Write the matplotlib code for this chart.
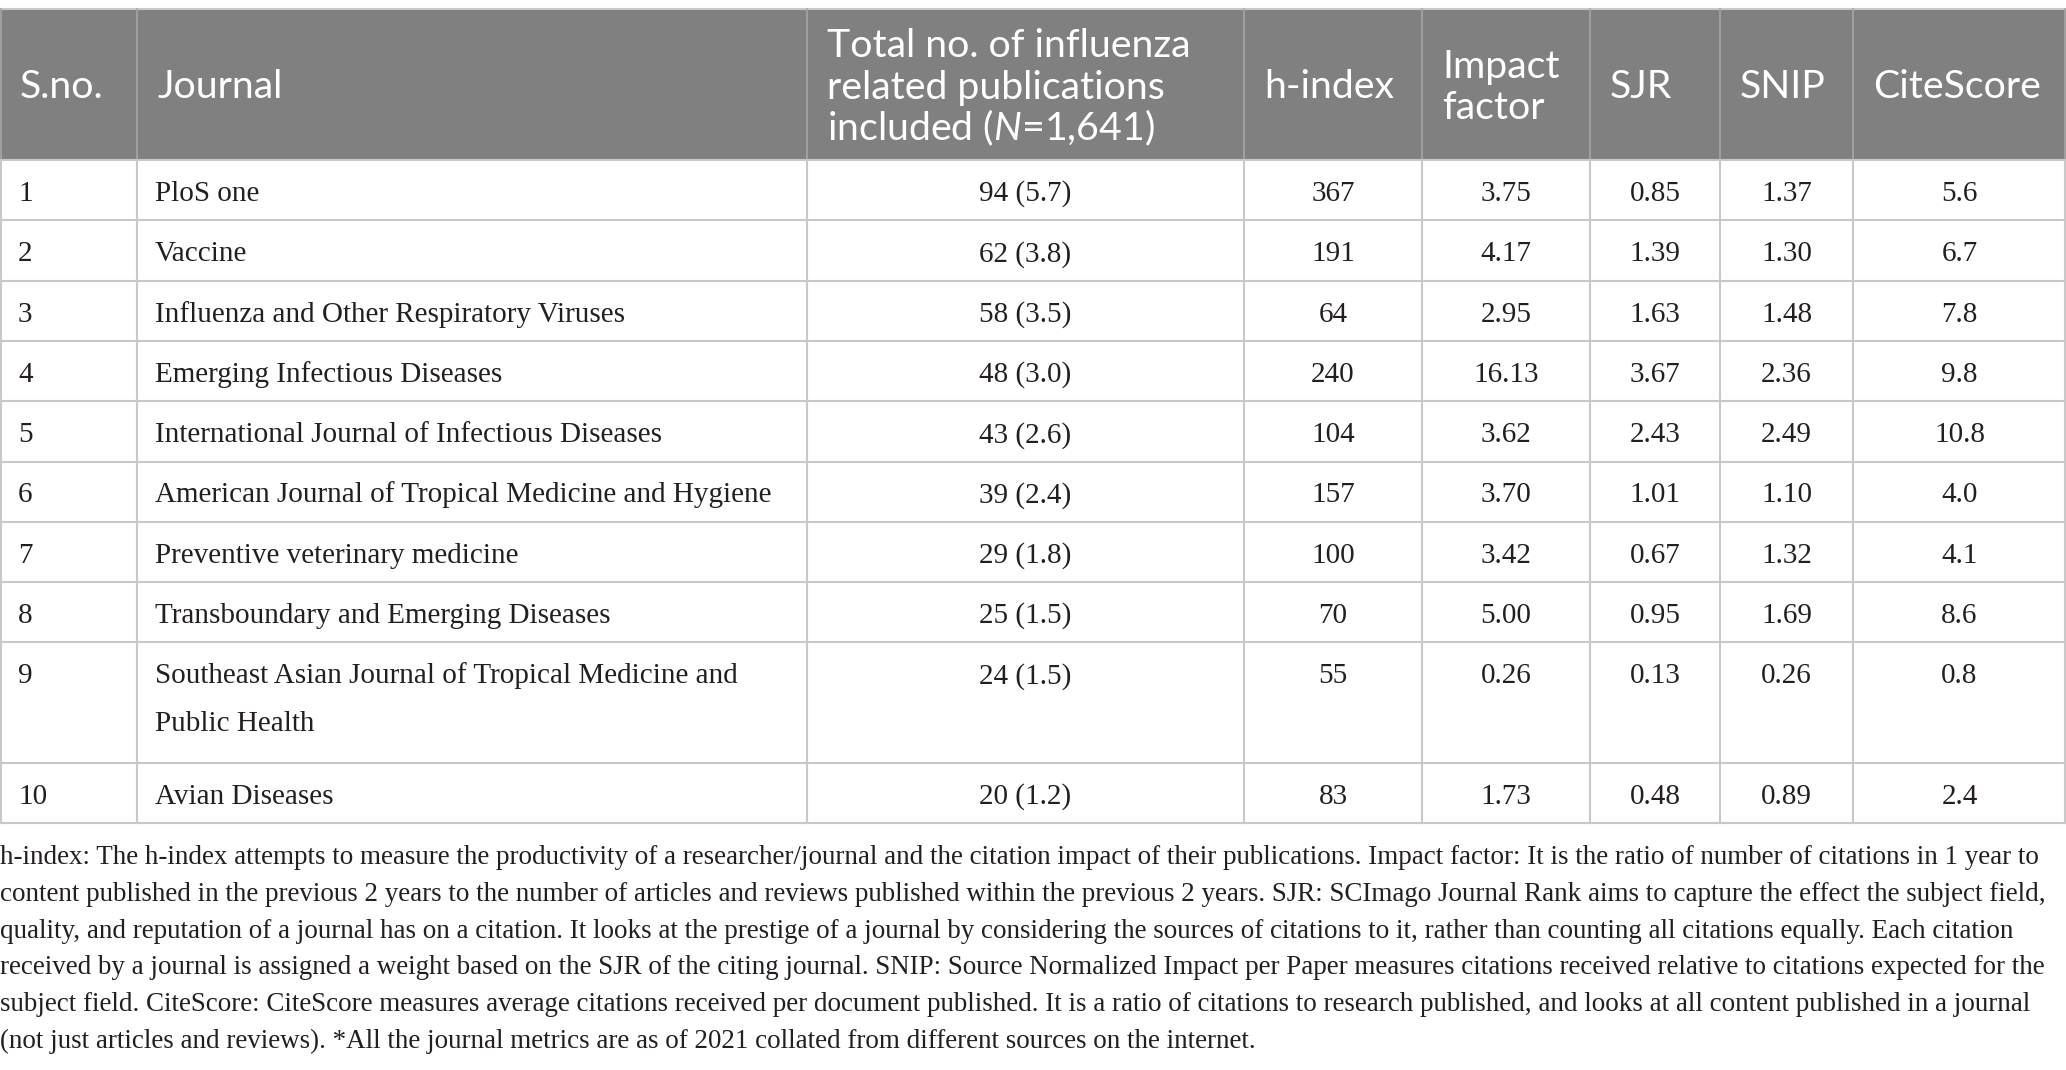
import matplotlib
matplotlib.use("Agg")
import matplotlib.pyplot as plt
from matplotlib.patches import Rectangle

# ---------------------------------------------------------------------
# Table data
# ---------------------------------------------------------------------
headers = ["S.no.", "Journal",
           "Total no. of influenza\nrelated publications\nincluded ($N$=1,641)",
           "h-index", "Impact\nfactor", "SJR", "SNIP", "CiteScore"]

sno = [1, 2, 3, 4, 5, 6, 7, 8, 9, 10]
journals = [
    "PloS one",
    "Vaccine",
    "Influenza and Other Respiratory Viruses",
    "Emerging Infectious Diseases",
    "International Journal of Infectious Diseases",
    "American Journal of Tropical Medicine and Hygiene",
    "Preventive veterinary medicine",
    "Transboundary and Emerging Diseases",
    "Southeast Asian Journal of Tropical Medicine and\nPublic Health",
    "Avian Diseases",
]
pub_counts = [94, 62, 58, 48, 43, 39, 29, 25, 24, 20]
pub_pct = [5.7, 3.8, 3.5, 3.0, 2.6, 2.4, 1.8, 1.5, 1.5, 1.2]
h_index = [367, 191, 64, 240, 104, 157, 100, 70, 55, 83]
impact = [3.75, 4.17, 2.95, 16.13, 3.62, 3.70, 3.42, 5.00, 0.26, 1.73]
sjr = [0.85, 1.39, 1.63, 3.67, 2.43, 1.01, 0.67, 0.95, 0.13, 0.48]
snip = [1.37, 1.30, 1.48, 2.36, 2.49, 1.10, 1.32, 1.69, 0.26, 0.89]
citescore = [5.6, 6.7, 7.8, 9.8, 10.8, 4.0, 4.1, 8.6, 0.8, 2.4]

footnote = [
    "h-index: The h-index attempts to measure the productivity of a researcher/journal and the citation impact of their publications. Impact factor: It is the ratio of number of citations in 1 year to",
    "content published in the previous 2 years to the number of articles and reviews published within the previous 2 years. SJR: SCImago Journal Rank aims to capture the effect the subject field,",
    "quality, and reputation of a journal has on a citation. It looks at the prestige of a journal by considering the sources of citations to it, rather than counting all citations equally. Each citation",
    "received by a journal is assigned a weight based on the SJR of the citing journal. SNIP: Source Normalized Impact per Paper measures citations received relative to citations expected for the",
    "subject field. CiteScore: CiteScore measures average citations received per document published. It is a ratio of citations to research published, and looks at all content published in a journal",
    "(not just articles and reviews). *All the journal metrics are as of 2021 collated from different sources on the internet.",
]

# ---------------------------------------------------------------------
# Layout (pixels)
# ---------------------------------------------------------------------
W, H = 2066, 1070
col_edges = [0, 137, 807, 1244, 1422, 1590, 1720, 1853, 2066]
table_top, header_bottom = 9, 160
row_unit = 60.3
header_gray = "#808080"
grid_color = "#c8c8c8"
text_color = "#231f20"
serif = "Liberation Serif"
sans = "Lato"

plt.rcParams["mathtext.fontset"] = "custom"
plt.rcParams["mathtext.it"] = "Lato:italic"
plt.rcParams["mathtext.rm"] = "Lato"

fig = plt.figure(figsize=(W / 100, H / 100), dpi=100)
ax = fig.add_axes([0, 0, 1, 1])
ax.set_xlim(0, W)
ax.set_ylim(H, 0)
ax.axis("off")
renderer = fig.canvas.get_renderer()


def fit_size(txt, family, target_px, ref=20):
    t = ax.text(0, 0, txt, fontsize=ref, family=family)
    w = t.get_window_extent(renderer).width
    t.remove()
    return ref * target_px / w


fs_head = fit_size("Total no. of influenza", sans, 364)
fs_body = fit_size("International Journal of Infectious Diseases", serif, 506)
fs_foot = fit_size(footnote[0], serif, 2044)

# rows: double height when journal name wraps
row_heights = [row_unit * (j.count("\n") + 1) for j in journals]
row_tops = [header_bottom]
for h in row_heights:
    row_tops.append(row_tops[-1] + h)
table_bottom = row_tops[-1]

# header background
ax.add_patch(Rectangle((0, table_top), W, header_bottom - table_top,
                       facecolor=header_gray, edgecolor="none", zorder=0))

# grid lines
for y in [table_top] + row_tops:
    ax.plot([0, W], [y, y], color=grid_color, lw=1.5, zorder=2)
for x in col_edges:
    x = min(max(x, 1), W - 1)
    ax.plot([x, x], [table_top, header_bottom], color="#a6a6a6", lw=1.2, zorder=2)
    ax.plot([x, x], [header_bottom, table_bottom], color=grid_color, lw=1.5, zorder=2)

# header text: left aligned, vertically centred
head_center = (table_top + header_bottom) / 2
head_step = 41.7
for c, head in enumerate(headers):
    lines = head.split("\n")
    n = len(lines)
    for i, line in enumerate(lines):
        y = head_center + 14 + (i - (n - 1) / 2) * head_step
        ax.text(col_edges[c] + 20, y, line, family=sans, fontsize=fs_head,
                color="white", ha="left", va="baseline", zorder=3)

# body text
body_step = 48
for r in range(len(journals)):
    base = row_tops[r] + 41
    values = [f"{pub_counts[r]} ({pub_pct[r]:.1f})", f"{h_index[r]}",
              f"{impact[r]:.2f}", f"{sjr[r]:.2f}", f"{snip[r]:.2f}",
              f"{citescore[r]:.1f}"]
    ax.text(col_edges[0] + 18, base, str(sno[r]), family=serif, fontsize=fs_body,
            color=text_color, ha="left", va="baseline", zorder=3)
    for i, line in enumerate(journals[r].split("\n")):
        ax.text(col_edges[1] + 18, base + i * body_step, line, family=serif,
                fontsize=fs_body, color=text_color, ha="left", va="baseline", zorder=3)
    for k, val in enumerate(values):
        cx = (col_edges[k + 2] + col_edges[k + 3]) / 2
        ax.text(cx, base, val, family=serif, fontsize=fs_body, color=text_color,
                ha="center", va="baseline", zorder=3)

# footnote
for i, line in enumerate(footnote):
    ax.text(0, 864 + i * 36.8, line, family=serif, fontsize=fs_foot,
            color=text_color, ha="left", va="baseline")

fig.savefig("out.png", dpi=100)
